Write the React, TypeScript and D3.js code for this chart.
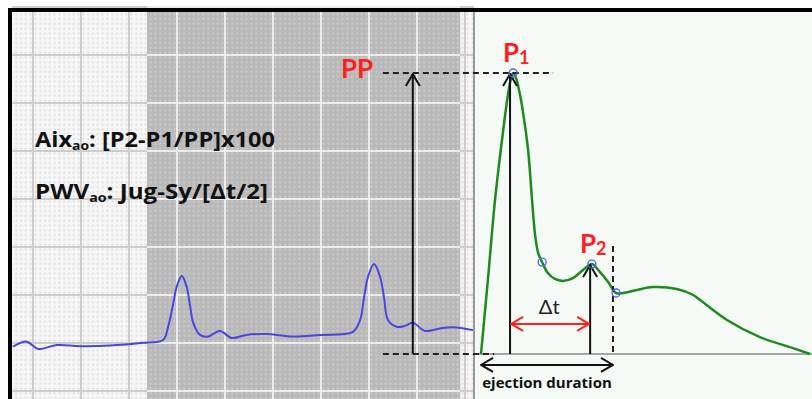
import React from "react";
import * as d3 from "d3";

// left trace (jugular / carotid signal), time in s, amplitude in mmHg-like units
const leftTime = [-0.083, -0.026, 0.022, 0.099, 0.196, 0.321, 0.458, 0.542, 0.563, 0.583, 0.599, 0.62, 0.64, 0.654, 0.668, 0.696, 0.729, 0.779, 0.828, 0.89, 0.974, 1.083, 1.196, 1.333, 1.363, 1.379, 1.396, 1.421, 1.446, 1.463, 1.479, 1.515, 1.55, 1.583, 1.633, 1.696, 1.75, 1.833];
const leftValue = [2.6, 4.4, 1.8, 3.2, 2.8, 3.0, 4.0, 5.0, 9.7, 17.4, 24.0, 27.8, 24.0, 17.4, 11.0, 6.8, 6.2, 8.2, 5.7, 6.8, 7.1, 6.2, 6.8, 7.9, 12.1, 19.9, 27.5, 32.0, 27.5, 19.9, 12.1, 9.7, 10.0, 11.1, 8.2, 9.1, 9.5, 8.5];

// averaged aortic pulse, time in ms from onset
const pulseTime = [0, 16, 32, 50, 61, 68, 73, 80, 89, 95, 107, 116, 123, 130, 139, 152, 168, 186, 209, 232, 252, 270, 289, 307, 323, 355, 391, 445, 482, 498, 559, 634, 709, 748];
const pulseValue = [0, 27, 55, 79, 92, 98, 100, 98, 92, 86.5, 72.6, 54.8, 42.3, 35.9, 32.7, 28.8, 26.7, 26.0, 27.0, 29.9, 32.0, 29.2, 25.6, 21.7, 21.7, 22.8, 23.8, 23.1, 21.0, 19.2, 12.1, 6.0, 2.1, 0];

// detected points: P1, inflection, P2, notch
const markerTime = [73, 139, 252, 307];
const markerValue = [100, 32.7, 32.0, 21.7];

// paper grid
const gridTicksX = d3.range(0, 1.81, 0.2);
const gridRows = d3.range(0, 9);
const shadeStart = 0.475;
const shadeEnd = 1.78;

// annotation times (ms) and levels
const ppArrowTime = -155;
const ppDashStart = -223;
const ppDashTopEnd = 164;
const ppDashBottomEnd = 30;
const p1ArrowTime = 66;
const p2ArrowTime = 248;
const ejectionEnd = 300;
const ejectionDashTop = 38.4;
const deltaLevel = 10.7;
const ejectionLevel = -3.9;

const W = 812;
const H = 399;
const panelSplit = 474;

export default function App() {
  const xL = d3.scaleLinear().domain([0, 1.8]).range([33, 465]);
  const xR = d3.scaleLinear().domain([0, 300]).range([481, 613]);
  const y = d3.scaleLinear().domain([0, 100]).range([354, 73]);
  const gridY = d3.scaleLinear().domain([0, 1]).range([7, 55]);

  const leftLine = d3
    .line<number>()
    .x((_, i) => xL(leftTime[i]))
    .y((d) => y(d))
    .curve(d3.curveCatmullRom.alpha(0.5));
  const pulseLine = d3
    .line<number>()
    .x((_, i) => xR(pulseTime[i]))
    .y((d) => y(d))
    .curve(d3.curveCatmullRom.alpha(0.5));

  const gx0 = xL(shadeStart);
  const gx1 = xL(shadeEnd);
  const font = "Lato, 'Open Sans', sans-serif";
  const wide = "'Open Sans', Lato, sans-serif";
  const red = "#ff1f1f";
  const dash = "6 4";

  return (
    <svg width={W} height={H} style={{ position: "absolute", left: 0, top: 0 }}>
      <defs>
        <pattern id="dotsLight" patternUnits="userSpaceOnUse" x={33} y={7} width={4.8} height={4.8}>
          <rect width={4.8} height={4.8} fill="#f6f6f6" />
          <circle cx={2.4} cy={2.4} r={0.9} fill="#d6d6d6" />
        </pattern>
        <pattern id="dotsDark" patternUnits="userSpaceOnUse" x={33} y={7} width={4.8} height={4.8}>
          <rect width={4.8} height={4.8} fill="#b9b9b9" />
          <circle cx={2.4} cy={2.4} r={0.9} fill="#d4d4d4" />
        </pattern>
        <marker id="chevK" viewBox="0 0 14 16" refX={13} refY={8} markerWidth={14} markerHeight={16} markerUnits="userSpaceOnUse" orient="auto-start-reverse">
          <path d="M1,1 L13,8 L1,15" fill="none" stroke="#111" strokeWidth={2} />
        </marker>
        <marker id="chevR" viewBox="0 0 14 16" refX={13} refY={8} markerWidth={14} markerHeight={16} markerUnits="userSpaceOnUse" orient="auto-start-reverse">
          <path d="M1,1 L13,8 L1,15" fill="none" stroke={red} strokeWidth={2} />
        </marker>
      </defs>

      {/* left panel: paper */}
      <rect x={12} y={12} width={panelSplit - 12} height={H - 12} fill="url(#dotsLight)" />
      {gridTicksX.map((t) => (
        <line key={"vl" + t} x1={xL(t)} x2={xL(t)} y1={12} y2={H} stroke="#cdcdcd" strokeWidth={2} />
      ))}
      {gridRows.map((r) => (
        <line key={"hl" + r} x1={12} x2={panelSplit} y1={gridY(r)} y2={gridY(r)} stroke="#cdcdcd" strokeWidth={2} />
      ))}
      <rect x={gx0} y={12} width={gx1 - gx0} height={H - 12} fill="url(#dotsDark)" />
      {gridTicksX
        .filter((t) => xL(t) > gx0 && xL(t) < gx1)
        .map((t) => (
          <line key={"vd" + t} x1={xL(t)} x2={xL(t)} y1={12} y2={H} stroke="#ececec" strokeWidth={2} />
        ))}
      {gridRows.map((r) => (
        <line key={"hd" + r} x1={gx0} x2={gx1} y1={gridY(r)} y2={gridY(r)} stroke="#ececec" strokeWidth={2} />
      ))}
      <path d={leftLine(leftValue) ?? ""} fill="none" stroke="#4646e0" strokeWidth={2} />

      {/* right panel */}
      <rect x={panelSplit} y={12} width={W - panelSplit} height={H - 12} fill="#f5faf6" />
      <line x1={panelSplit} x2={panelSplit} y1={12} y2={H} stroke="#9a9a9a" strokeWidth={2} />
      <line x1={panelSplit} x2={W} y1={y(0)} y2={y(0)} stroke="#8a8a8a" strokeWidth={1.5} />
      <path d={pulseLine(pulseValue) ?? ""} fill="none" stroke="#1e8a1e" strokeWidth={2.5} />

      {/* frame */}
      <line x1={10} x2={W} y1={10} y2={10} stroke="#000" strokeWidth={4} />
      <line x1={10} x2={10} y1={8} y2={H} stroke="#000" strokeWidth={4} />

      {/* PP */}
      <line x1={xR(ppDashStart)} x2={xR(ppDashTopEnd)} y1={y(100)} y2={y(100)} stroke="#222" strokeWidth={2} strokeDasharray={dash} />
      <line x1={xR(ppDashStart)} x2={xR(ppDashBottomEnd)} y1={y(0)} y2={y(0)} stroke="#222" strokeWidth={2} strokeDasharray={dash} />
      <line x1={xR(ppArrowTime)} x2={xR(ppArrowTime)} y1={y(0)} y2={y(100) + 1} stroke="#111" strokeWidth={2} markerEnd="url(#chevK)" />
      <text x={xR(-245)} y={y(98.2)} textAnchor="end" fill={red} fontFamily={font} fontWeight="bold" fontSize={26}>PP</text>

      {/* P1, P2 arrows */}
      <line x1={xR(p1ArrowTime)} x2={xR(p1ArrowTime)} y1={y(0)} y2={y(100) + 1} stroke="#111" strokeWidth={2} markerEnd="url(#chevK)" />
      <line x1={xR(p2ArrowTime)} x2={xR(p2ArrowTime)} y1={y(0)} y2={y(32) + 1} stroke="#111" strokeWidth={2} markerEnd="url(#chevK)" />
      <line x1={xR(ejectionEnd)} x2={xR(ejectionEnd)} y1={y(ejectionDashTop)} y2={y(0)} stroke="#222" strokeWidth={2} strokeDasharray={dash} />

      {markerTime.map((t, i) => (
        <circle key={"m" + t} cx={xR(t)} cy={y(markerValue[i])} r={4} fill="none" stroke="#5b5bff" strokeWidth={1.3} />
      ))}

      <text x={xR(50)} y={y(103.9)} fill={red} fontFamily={font} fontWeight="bold" fontSize={26}>
        P<tspan fontSize={18} dy={2}>1</tspan>
      </text>
      <text x={xR(225)} y={y(35.9)} fill={red} fontFamily={font} fontWeight="bold" fontSize={26}>
        P<tspan fontSize={18} dy={2}>2</tspan>
      </text>

      {/* delta t */}
      <line x1={xR(p1ArrowTime) + 1} x2={xR(p2ArrowTime) - 1} y1={y(deltaLevel)} y2={y(deltaLevel)} stroke={red} strokeWidth={2} markerStart="url(#chevR)" markerEnd="url(#chevR)" />
      <text x={xR(155)} y={y(14.2)} textAnchor="middle" fill="#222" fontFamily={font} fontSize={20}>Δt</text>

      {/* ejection duration */}
      <line x1={xR(0)} x2={xR(ejectionEnd)} y1={y(ejectionLevel)} y2={y(ejectionLevel)} stroke="#111" strokeWidth={2} markerStart="url(#chevK)" markerEnd="url(#chevK)" />
      <text x={xR(150)} y={y(-12)} textAnchor="middle" fill="#111" fontFamily={wide} fontWeight="bold" fontSize={15}>ejection duration</text>

      {/* formulas */}
      <text x={35} y={147} fill="#111" fontFamily={wide} fontWeight="bold" fontSize={22} textLength={240} lengthAdjust="spacingAndGlyphs">
        Aix<tspan fontSize={13} dy={3}>ao</tspan><tspan dy={-3}>: [P2-P1/PP]x100</tspan>
      </text>
      <text x={35} y={199} fill="#111" fontFamily={wide} fontWeight="bold" fontSize={22} textLength={233} lengthAdjust="spacingAndGlyphs">
        PWV<tspan fontSize={13} dy={3}>ao</tspan><tspan dy={-3}>: Jug-Sy/[Δt/2]</tspan>
      </text>
    </svg>
  );
}
